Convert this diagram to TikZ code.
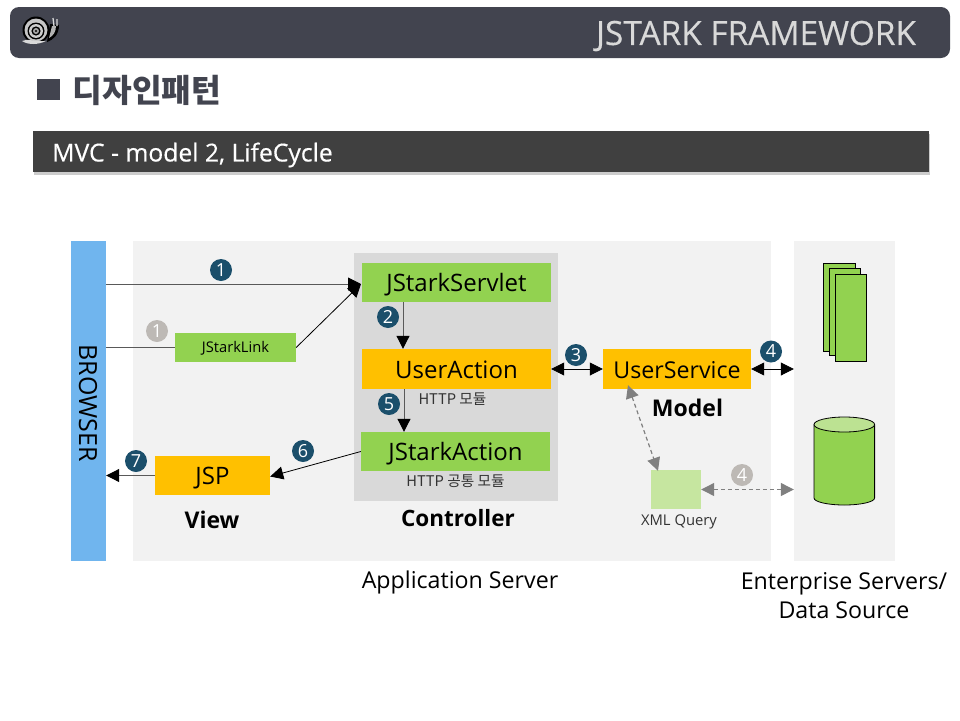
\documentclass[tikz,border=0pt]{standalone}
\usepackage{fontspec}
\setmainfont{Open Sans}
\newfontfamily\krfont{Noto Sans CJK KR}
\newfontfamily\medfont[FakeBold=0.4]{Open Sans}
\usetikzlibrary{arrows.meta,shadows}
\definecolor{barcol}{HTML}{42444F}
\definecolor{subbar}{HTML}{404040}
\definecolor{panel}{HTML}{F2F2F2}
\definecolor{ctrlbg}{HTML}{D9D9D9}
\definecolor{sky}{HTML}{70B5EE}
\definecolor{leaf}{HTML}{92D250}
\definecolor{paleleaf}{HTML}{C6E6A0}
\definecolor{topleaf}{HTML}{BCE292}
\definecolor{amber}{HTML}{FFC000}
\definecolor{navy}{HTML}{1B4F6B}
\definecolor{ash}{HTML}{BDB9B5}
\definecolor{linecol}{HTML}{595959}
\newcommand{\fs}[1]{\fontsize{#1}{#1}\selectfont}
\tikzset{
  block/.style={inner sep=0pt,text=black},
  panelbox/.style={block,fill=panel},
  greenbox/.style={block,fill=leaf,font=\fs{24},text height=18pt,text depth=0pt},
  amberbox/.style={block,fill=amber,font=\fs{24},text height=18pt,text depth=0pt},
  textlabel/.style={inner sep=0pt,text=black,font=\fs{23.2}},
  boldlabel/.style={inner sep=0pt,text=black,font=\bfseries\fs{23}},
  smalllabel/.style={inner sep=0pt,text=black!80,font=\fs{14.8}},
  numdot/.style={circle,inner sep=0pt,minimum size=22pt,text=white,font=\fs{18}},
  arrowline/.style={draw=black,line width=.8pt,-{Triangle[length=13pt,width=13pt]}},
  greyarrow/.style={draw=linecol,line width=1pt,-{Triangle[length=13pt,width=13pt,black]}},
  bothline/.style={draw=black,line width=.8pt,{Triangle[length=13pt,width=13pt]}-{Triangle[length=13pt,width=13pt]}},
  dashline/.style={draw=gray,line width=1.2pt,dash pattern=on 4pt off 3pt,{Triangle[length=13pt,width=13pt]}-{Triangle[length=13pt,width=13pt]}}
}
\begin{document}
\begin{tikzpicture}[x=1pt,y=-1pt]
\useasboundingbox (0,0) rectangle (960,720);

% header
\node (topbar) at (480,32.5) [fill=barcol,rounded corners=9pt,minimum width=940pt,minimum height=51pt,inner sep=0pt]{};
\node (toptitle) at (756,36) [inner sep=0pt,text=white!85!black,font=\medfont\fs{33.4}]{JSTARK FRAMEWORK};
\node (square) at (48.5,89.5) [fill=barcol,minimum width=23pt,minimum height=21pt,inner sep=0pt]{};
\node (heading) at (147,90) [inner sep=0pt,text=barcol,font=\krfont\bfseries\fs{32.3}]{디자인패턴};
\node (subbar) at (481,151.5) [fill=subbar,minimum width=896pt,minimum height=41pt,inner sep=0pt,drop shadow={shadow xshift=1pt,shadow yshift=-3pt,opacity=.4}]{};
\node (subtitle) at (192.5,155) [inner sep=0pt,text=white,font=\medfont\fs{24.7}]{MVC - model 2, LifeCycle};

% snail
\fill[black] (36,30) circle (13.5);
\fill[gray!45] (36,30) circle (11.5);
\fill[black] (36,31) circle (8.5);
\fill[white!80!black] (36,31) circle (7);
\fill[black] (36,31) circle (4.6);
\fill[gray!70] (36,31) circle (3);
\fill[black] (36,31) circle (1.2);
\fill[black] (47,42) .. controls (53,40) and (59,35) .. (59,25) -- (50,24) -- cycle;
\fill[white!70!black] (49,38) .. controls (53,36) and (56,32) .. (56,26) -- (52,26) -- cycle;
\fill[white!85!black] (22,41) .. controls (28,38) and (34,42) .. (46,41) .. controls (38,45) and (28,45) .. (22,41) -- cycle;
\draw[white!85!black,line width=1.3pt] (53,18) -- (54,26) (57,19) -- (57,26);

% panels
\node (browser) at (88.5,401) [fill=sky,minimum width=35pt,minimum height=320pt,inner sep=0pt]{};
\node (browsertext) at (88,403) [rotate=-90,inner sep=0pt,text=black,font=\fs{25},text height=18pt,text depth=0pt]{BROWSER};
\node (appserver) at (452,401) [panelbox,minimum width=638pt,minimum height=320pt]{};
\node (enterprise) at (844.5,401) [panelbox,minimum width=101pt,minimum height=320pt]{};
\node (controller) at (456,377) [fill=ctrlbg,minimum width=204pt,minimum height=248pt,inner sep=0pt]{};

% boxes
\node (servlet) at (456.5,282.5) [greenbox,minimum width=189pt,minimum height=39pt]{JStarkServlet};
\node (useraction) at (456.5,369) [amberbox,minimum width=189pt,minimum height=40pt]{UserAction};
\node (jstarkaction) at (455.5,451.5) [greenbox,minimum width=189pt,minimum height=39pt]{JStarkAction};
\node (link) at (235.5,347.5) [greenbox,font=\fs{14.7},text height=10.5pt,minimum width=121pt,minimum height=29pt]{JStarkLink};
\node (jsp) at (212.5,475.5) [amberbox,minimum width=115pt,minimum height=39pt]{JSP};
\node (userservice) at (677,369) [amberbox,font=\fs{23.2},minimum width=148pt,minimum height=40pt]{UserService};
\node (xmlquery) at (676,489.5) [fill=paleleaf,minimum width=50pt,minimum height=39pt,inner sep=0pt]{};

% labels
\node (httplabel) at (452.5,399) [smalllabel,font=\krfont\fs{14.7}]{HTTP 모듈};
\node (commonlabel) at (455.5,481) [smalllabel,font=\krfont\fs{14.7}]{HTTP 공통 모듈};
\node (ctrllabel) at (458,518) [boldlabel,font=\bfseries\fs{22.5}]{Controller};
\node (viewlabel) at (212,520) [boldlabel]{View};
\node (modellabel) at (687.5,408) [boldlabel]{Model};
\node (xmllabel) at (679,522) [smalllabel]{XML Query};
\node (applabel) at (460,582) [textlabel]{Application Server};
\node (entlabel) at (844,595.5) [textlabel,align=center]{Enterprise Servers/\\[5pt]Data Source};

% documents
\foreach \x/\y/\w/\h/\n in {839/307/32/88/doca,844.5/311.5/31/87/docb,851/317.5/31/87/docc}
  \node (\n) at (\x,\y) [draw=black,fill=leaf,line width=.8pt,minimum width=\w pt,minimum height=\h pt,inner sep=0pt]{};

% database
\draw[fill=leaf,line width=.8pt] (814,424.5) -- (814,498) arc[x radius=30.3,y radius=7,start angle=180,end angle=0] -- (874.6,424.5);
\draw[fill=topleaf,line width=.8pt] (844.3,424.5) ellipse (30.3 and 7.5);

% connectors
\draw[greyarrow] (browser.east |- 0,284) -- (361,284) coordinate (servletin);
\draw[draw=linecol,line width=1pt] (link.west) -- (link.west -| browser.east);
\draw[arrowline] (link.east) -- (servletin);
\draw[greyarrow] ([xshift=-53.5pt]servlet.south) -- ([xshift=-53.5pt]useraction.north);
\draw[greyarrow] ([xshift=-52.5pt]useraction.south) -- ([xshift=-51.5pt]jstarkaction.north);
\draw[bothline] (useraction.east) -- (userservice.west);
\draw[bothline] (userservice.east) -- (userservice.east -| enterprise.west);
\draw[arrowline] (jstarkaction.west) -- ([yshift=-1pt]jsp.east);
\draw[greyarrow] (jsp.west) -- (jsp.west -| browser.east);
\draw[dashline] ([xshift=-49pt,yshift=4pt]userservice.south) -- ([xshift=-18pt,yshift=-1pt]xmlquery.north);
\draw[dashline] (xmlquery.east) -- (xmlquery.east -| enterprise.west);

% numbers
\foreach \x/\y/\t/\n in {221/270/1/numa,388/317/2/numb,576/355/3/numc,771/351.5/4/numd,389/404/5/nume,303/451/6/numf,136/461/7/numg}
  \node (\n) at (\x,\y) [numdot,fill=navy]{\t};
\foreach \x/\y/\t/\n in {157/331/1/numh,742/475/4/numi}
  \node (\n) at (\x,\y) [numdot,fill=ash]{\t};

\end{tikzpicture}
\end{document}
